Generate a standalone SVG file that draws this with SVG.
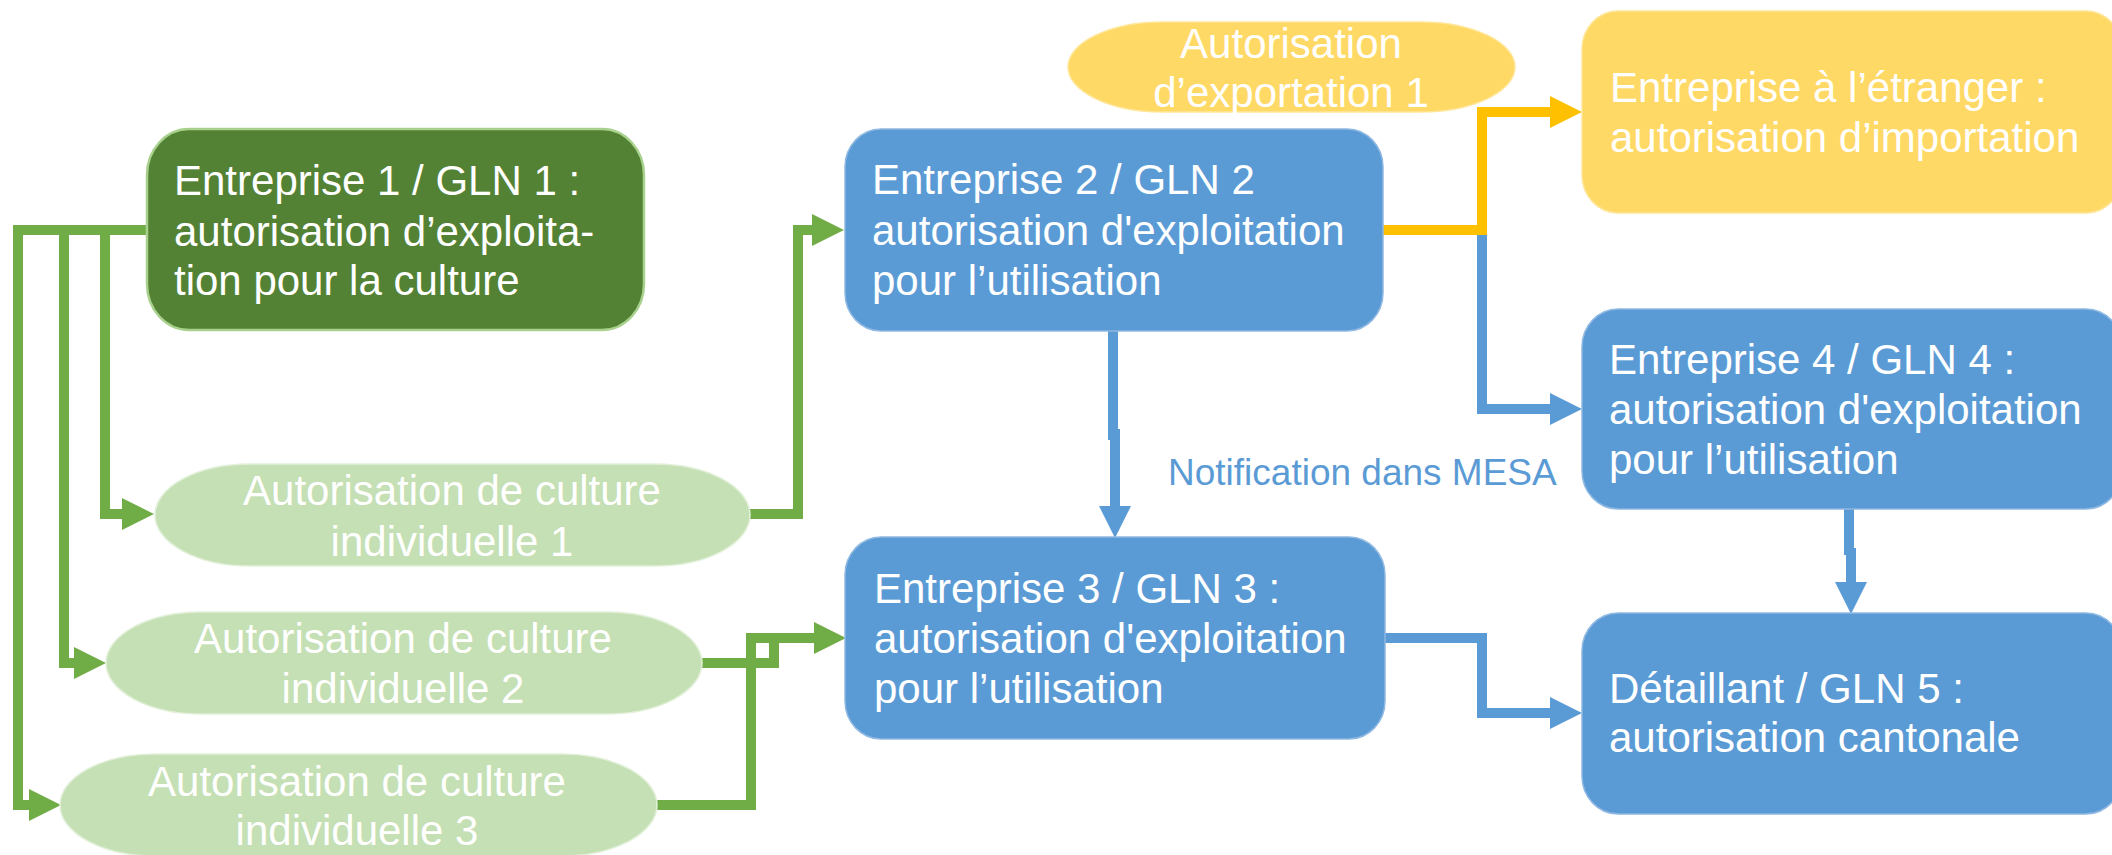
<svg xmlns="http://www.w3.org/2000/svg" width="2112" height="855" viewBox="0 0 2112 855">
<style>
text{font-family:"Liberation Sans",Arial,sans-serif;font-size:42px;fill:#FFFFFF}
.lbl{fill:#5B9BD5;font-size:37px}
.mid{text-anchor:middle}
.g{fill:none;stroke:#70AD47;stroke-width:10;stroke-linejoin:miter}
.y{fill:none;stroke:#FFC000;stroke-width:10;stroke-linejoin:miter}
.b{fill:none;stroke:#5B9BD5;stroke-width:10;stroke-linejoin:miter}
.box1{fill:#548235;stroke:#A9D18E;stroke-width:2.5}
.boxb{fill:#5B9BD5;stroke:#8FB8E2;stroke-width:1.5}
.boxy{fill:#FFD966;stroke:#FFE699;stroke-width:1.5}
.ell{fill:#C5E0B4;stroke:#E2F0D9;stroke-width:1.5}
</style>
<defs>
<marker id="ag" markerUnits="userSpaceOnUse" markerWidth="32" markerHeight="32" refX="0" refY="16" orient="auto"><path d="M0,0 L32,16 L0,32 Z" fill="#70AD47"/></marker>
<marker id="ay" markerUnits="userSpaceOnUse" markerWidth="32" markerHeight="32" refX="0" refY="16" orient="auto"><path d="M0,0 L32,16 L0,32 Z" fill="#FFC000"/></marker>
<marker id="ab" markerUnits="userSpaceOnUse" markerWidth="32" markerHeight="32" refX="0" refY="16" orient="auto"><path d="M0,0 L32,16 L0,32 Z" fill="#5B9BD5"/></marker>
</defs>

<g id="connectors">
<path class="g" d="M147,230 H18 V805 H29" marker-end="url(#ag)"/>
<path class="g" d="M64,230 V663 H74" marker-end="url(#ag)"/>
<path class="g" d="M105,230 V514 H122" marker-end="url(#ag)"/>
<path class="g" d="M750,514 H798 V230 H812" marker-end="url(#ag)"/>
<path class="g" d="M657,805 H751 V638 H814" marker-end="url(#ag)"/>
<path class="g" d="M702,663 H774 V638"/>
<path class="b" d="M1482,232 V409 H1550" marker-end="url(#ab)"/>
<path class="y" d="M1383,230 H1482 V112 H1550" marker-end="url(#ay)"/>
<path class="b" d="M1113,331 V440"/>
<path class="b" d="M1115,429 V506" marker-end="url(#ab)"/>
<path class="b" d="M1385,638 H1482 V713 H1550" marker-end="url(#ab)"/>
<path class="b" d="M1849,509 V555"/>
<path class="b" d="M1851,548 V582" marker-end="url(#ab)"/>
</g>

<g id="entreprise1">
<rect class="box1" x="147" y="129" width="497" height="201" rx="42" ry="46"/>
<text x="174" y="195">Entreprise 1 / GLN 1 :</text>
<text x="174" y="246">autorisation d’exploita-</text>
<text x="174" y="295">tion pour la culture</text>
</g>

<g id="culture1">
<rect class="ell" x="155" y="464" width="595" height="102" rx="95" ry="51"/>
<text class="mid" x="452" y="505">Autorisation de culture</text>
<text class="mid" x="452" y="556">individuelle 1</text>
</g>

<g id="culture2">
<rect class="ell" x="106" y="612" width="596" height="102" rx="95" ry="51"/>
<text class="mid" x="403" y="653">Autorisation de culture</text>
<text class="mid" x="403" y="703">individuelle 2</text>
</g>

<g id="culture3">
<rect class="ell" x="60" y="754" width="597" height="102" rx="95" ry="51"/>
<text class="mid" x="357" y="796">Autorisation de culture</text>
<text class="mid" x="357" y="845">individuelle 3</text>
</g>

<g id="export1">
<rect class="boxy" x="1068" y="22" width="447" height="90" rx="95" ry="45"/>
<text class="mid" x="1291" y="58">Autorisation</text>
<text class="mid" x="1291" y="107">d’exportation 1</text>
</g>

<g id="entreprise2">
<rect class="boxb" x="845" y="129" width="538" height="202" rx="36" ry="38"/>
<text x="872" y="194">Entreprise 2 / GLN 2</text>
<text x="872" y="245">autorisation d'exploitation</text>
<text x="872" y="295">pour l’utilisation</text>
</g>

<g id="entreprise3">
<rect class="boxb" x="845" y="537" width="540" height="202" rx="36" ry="38"/>
<text x="874" y="603">Entreprise 3 / GLN 3 :</text>
<text x="874" y="653">autorisation d'exploitation</text>
<text x="874" y="703">pour l’utilisation</text>
</g>

<g id="etranger">
<rect class="boxy" x="1582" y="11" width="540" height="202" rx="36" ry="38"/>
<text x="1610" y="102">Entreprise à l’étranger :</text>
<text x="1610" y="152">autorisation d’importation</text>
</g>

<g id="entreprise4">
<rect class="boxb" x="1582" y="309" width="540" height="200" rx="36" ry="38"/>
<text x="1609" y="374">Entreprise 4 / GLN 4 :</text>
<text x="1609" y="424">autorisation d'exploitation</text>
<text x="1609" y="474">pour l’utilisation</text>
</g>

<g id="detaillant">
<rect class="boxb" x="1582" y="613" width="540" height="201" rx="36" ry="38"/>
<text x="1609" y="703">Détaillant / GLN 5 :</text>
<text x="1609" y="752">autorisation cantonale</text>
</g>

<g id="label">
<text class="lbl" x="1168" y="485">Notification dans MESA</text>
</g>
</svg>
